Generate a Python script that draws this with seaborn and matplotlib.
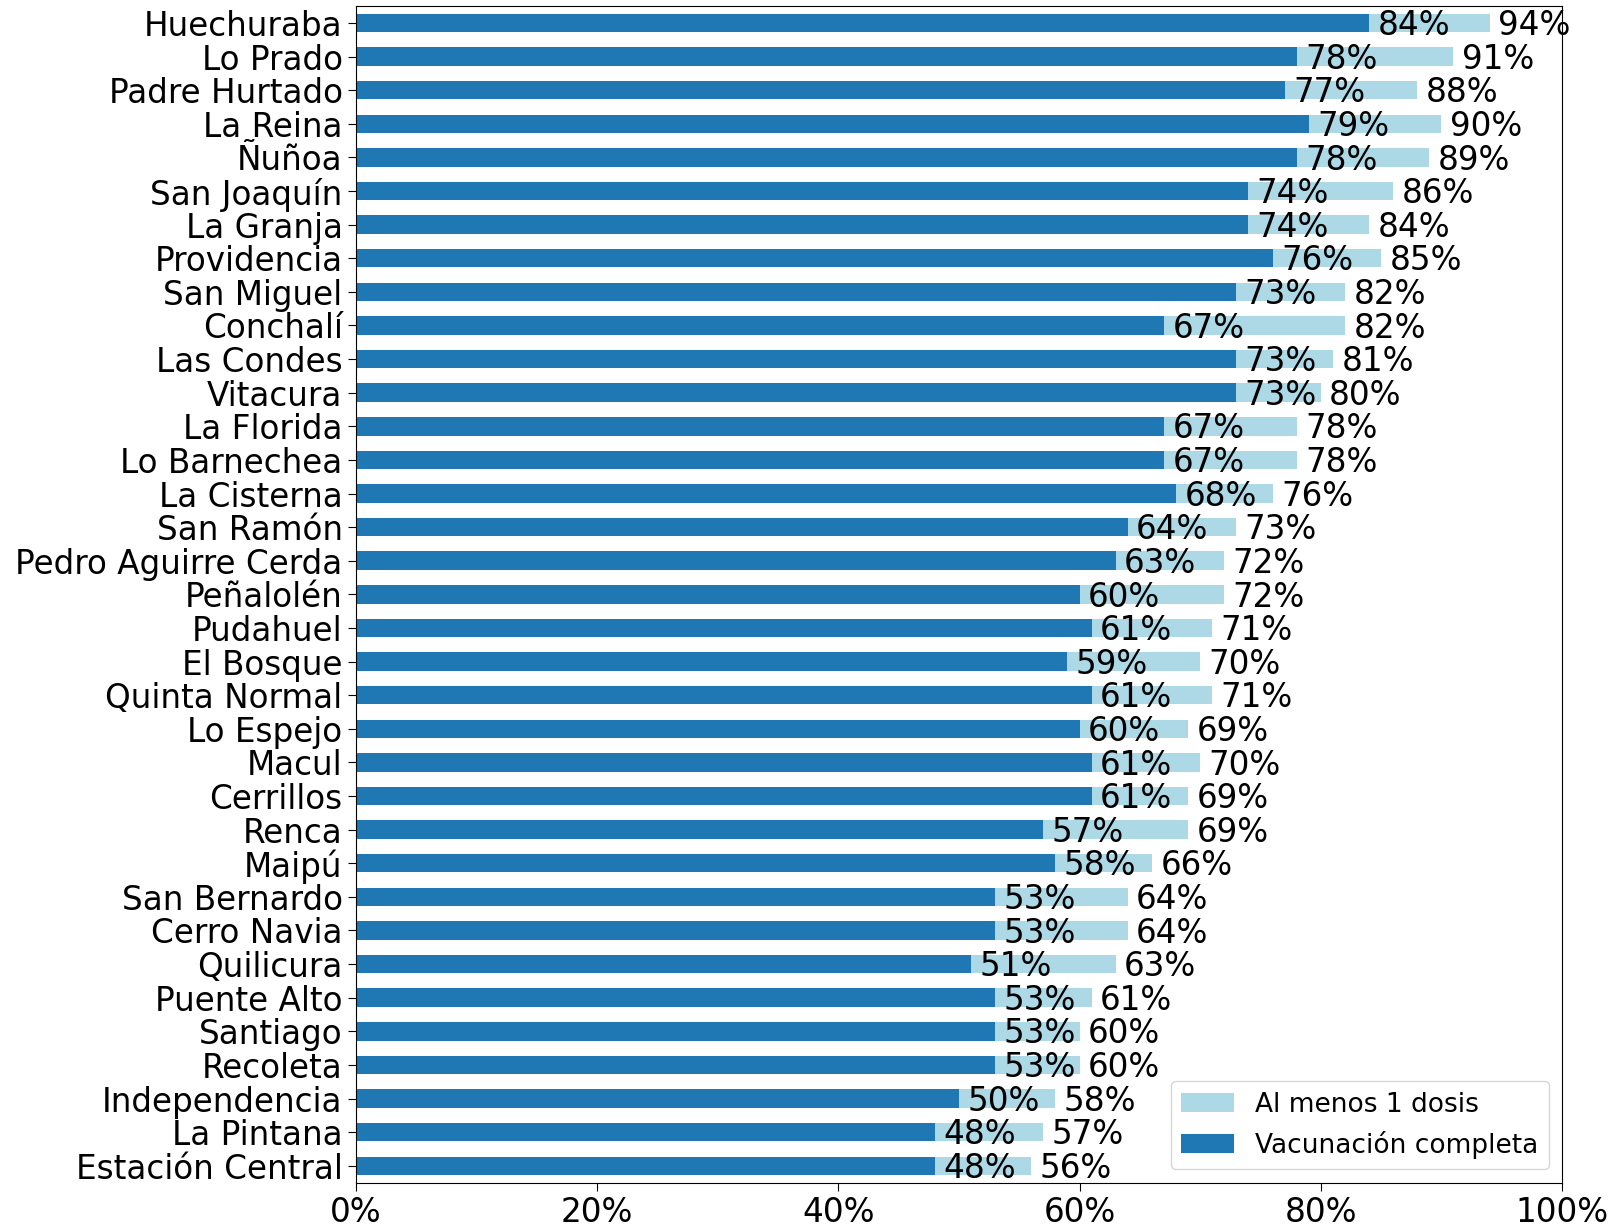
import matplotlib
matplotlib.use("Agg")
import matplotlib.pyplot as plt
import matplotlib.ticker as mtick
import pandas as pd
import seaborn as sns

comunas = ["Huechuraba", "Lo Prado", "Padre Hurtado", "La Reina", "Ñuñoa",
           "San Joaquín", "La Granja", "Providencia", "San Miguel", "Conchalí",
           "Las Condes", "Vitacura", "La Florida", "Lo Barnechea", "La Cisterna",
           "San Ramón", "Pedro Aguirre Cerda", "Peñalolén", "Pudahuel", "El Bosque",
           "Quinta Normal", "Lo Espejo", "Macul", "Cerrillos", "Renca",
           "Maipú", "San Bernardo", "Cerro Navia", "Quilicura", "Puente Alto",
           "Santiago", "Recoleta", "Independencia", "La Pintana", "Estación Central"]
una_dosis = [94, 91, 88, 90, 89, 86, 84, 85, 82, 82, 81, 80, 78, 78, 76, 73, 72, 72,
             71, 70, 71, 69, 70, 69, 69, 66, 64, 64, 63, 61, 60, 60, 58, 57, 56]
completa = [84, 78, 77, 79, 78, 74, 74, 76, 73, 67, 73, 73, 67, 67, 68, 64, 63, 60,
            61, 59, 61, 60, 61, 61, 57, 58, 53, 53, 51, 53, 53, 53, 50, 48, 48]

df = pd.DataFrame({"comuna": comunas, "una": una_dosis, "completa": completa})

fig = plt.figure(figsize=(16.17, 12.28), dpi=100)
ax = fig.add_axes([0.220, 0.037, 0.746, 0.958])

sns.barplot(data=df, y="comuna", x="una", color="lightblue", saturation=1,
            width=0.55, label="Al menos 1 dosis", ax=ax)
sns.barplot(data=df, y="comuna", x="completa", color="#1f77b4", saturation=1,
            width=0.55, label="Vacunación completa", ax=ax)

# etiquetas de porcentaje al final de cada barra
for i, (u, c) in enumerate(zip(una_dosis, completa)):
    ax.text(c + 0.7, i + 0.08, f"{c}%", va="center", ha="left", fontsize=23.5)
    ax.text(u + 0.7, i + 0.08, f"{u}%", va="center", ha="left", fontsize=23.5)

ax.set_xlim(0, 100)
ax.xaxis.set_major_locator(mtick.MultipleLocator(20))
ax.xaxis.set_major_formatter(mtick.PercentFormatter(decimals=0))
ax.tick_params(axis="both", labelsize=23.5, length=6)
ax.set_xlabel("")
ax.set_ylabel("")
for s in ax.spines.values():
    s.set_visible(True)
ax.legend(loc="lower right", fontsize=19)

fig.savefig("out.png", dpi=100)
